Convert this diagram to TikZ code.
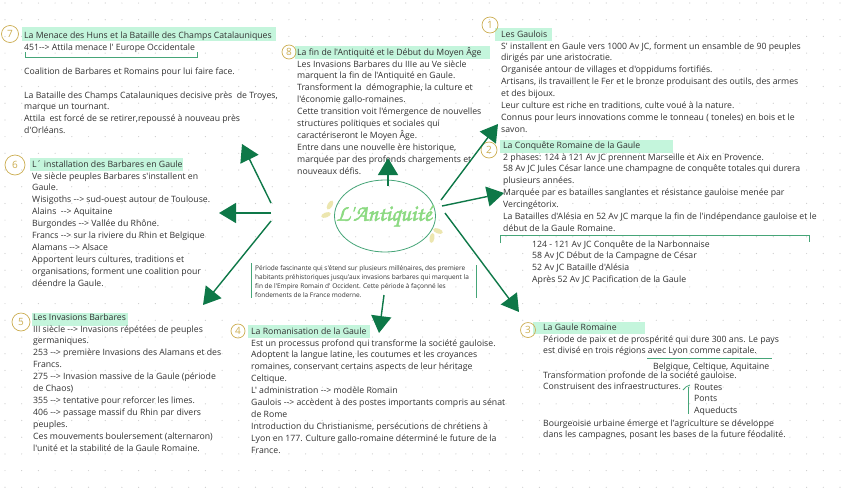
\documentclass[tikz,border=0pt]{standalone}
\usepackage{fontspec}
\usetikzlibrary{arrows.meta,shapes.geometric}
\newfontfamily\osans{Open Sans}
\newfontfamily\scriptf{texgyrechorus-mediumitalic.otf}[FakeBold=2.2]
\newcommand\bodyf{\osans\fontsize{8.7}{11.9}\selectfont}
\newcommand\descf{\osans\fontsize{6.5}{9}\selectfont}
\definecolor{textgray}{RGB}{50,50,50}
\definecolor{mint}{RGB}{196,245,220}
\definecolor{gold}{RGB}{204,174,82}
\definecolor{dkgreen}{RGB}{14,120,72}
\definecolor{lgreen}{RGB}{70,165,120}
\definecolor{scriptgreen}{RGB}{140,218,130}
\definecolor{leaf}{RGB}{236,230,175}
\definecolor{dotgray}{RGB}{205,205,205}
\tikzset{
  body/.style={font=\bodyf, text=textgray, align=left, anchor=base west, inner sep=0pt},
  desc/.style={font=\descf, text=textgray, align=left, anchor=base west, inner sep=0pt},
  hl/.style={fill=mint, draw=none},
  numc/.style={draw=gold, line width=0.7pt, circle, inner sep=0pt, text=gold, font=\osans\fontsize{10}{10}\selectfont},
  bigarrow/.style={draw=dkgreen, line width=1.4pt, -{Triangle[width=20pt,length=17pt]}},
  thin/.style={draw=lgreen, line width=0.8pt}
}
\begin{document}
\begin{tikzpicture}[x=1pt,y=-1pt]
\useasboundingbox (0,0) rectangle (848,488);
\fill[white] (0,0) rectangle (848,488);
% dot grid
\foreach \i in {0,...,50} {\foreach \j in {0,...,29} {\fill[dotgray] (5+\i*16.7,3+\j*16.7) circle (0.6);}}

% NOTE: multi-line nodes are anchored at the baseline of their LAST line

% ---------- Section 7 ----------
\fill[hl] (22,27) rectangle (276,41);
\node[numc, minimum size=17pt] (n7) at (10,34) {7};
\node[body] (t7) at (24,38) {La Menace des Huns et la Bataille des Champs Catalauniques};
\node[body] (b7a) at (24,50) {451--> Attila menace l' Europe Occidentale};
\draw[thin] (25,52) -- (25,57.5) -- (197,57.5) -- (197,52);
\node[body] (b7b) at (24,74) {Coalition de Barbares et Romains pour lui faire face.};
\node[body] (b7c) at (24,133.7) {La Bataille des Champs Catalauniques decisive près\ \ de Troyes,\\marque un tournant.\\Attila\ \ est forcé de se retirer,repoussé à nouveau près\\d'Orléans.};

% ---------- Section 8 ----------
\fill[hl] (295,46) rectangle (490,58.5);
\node[numc, minimum size=14pt] (n8) at (289,52) {8};
\node[body] (t8) at (297,55) {La fin de l'Antiquité et le Début du Moyen Âge};
\node[body] (b8) at (297,174.1) {Les Invasions Barbares du IIIe au Ve siècle\\marquent la fin de l'Antiquité en Gaule.\\Transforment la\ \ démographie, la culture et\\l'économie gallo-romaines.\\Cette transition voit l'émergence de nouvelles\\structures politiques et sociales qui\\caractériseront le Moyen Âge.\\Entre dans une nouvelle ère historique,\\marquée par des profonds chargements et\\nouveaux défis.};

% ---------- Section 1 ----------
\fill[hl] (495,28) rectangle (552,41);
\node[numc, minimum size=16pt] (n1) at (490,25) {1};
\node[body] (t1) at (501,37) {Les Gaulois};
\node[body] (b1) at (501,132.3) {S' installent en Gaule vers 1000 Av JC, forment un ensamble de 90 peuples\\dirigés par une aristocratie.\\Organisée antour de villages et d'oppidums fortifiés.\\Artisans, ils travaillent le Fer et le bronze produisant des outils, des armes\\et des bijoux.\\Leur culture est riche en traditions, culte voué à la nature.\\Connus pour leurs innovations comme le tonneau ( toneles) en bois et le\\savon.};

% ---------- Section 2 ----------
\fill[hl] (500,140) rectangle (673,153);
\node[numc, minimum size=16pt] (n2) at (489,150) {2};
\node[body] (t2) at (503,148) {La Conquête Romaine de la Gaule};
\node[body] (b2) at (503,231.4) {2 phases: 124 à 121 Av JC prennent Marseille et Aix en Provence.\\58 Av JC Jules César lance une champagne de conquête totales qui durera\\plusieurs années.\\Marquée par es batailles sanglantes et résistance gauloise menée par\\Vercingétorix.\\La Batailles d'Alésia en 52 Av JC marque la fin de l'indépendance gauloise et le\\début de la Gaule Romaine.};
\draw[thin] (500,243) -- (500,235) -- (809,235) -- (809,242);
\node[body] (s2) at (532,282.7) {124 - 121 Av JC Conquête de la Narbonnaise\\58 Av JC Début de la Campagne de César\\52 Av JC Bataille d'Alésia\\Après 52 Av JC Pacification de la Gaule};

% ---------- Section 6 ----------
\fill[hl] (30,158) rectangle (183,171);
\node[numc, minimum size=20pt] (n6) at (15,165) {6};
\node[body] (t6) at (32,167) {L´ installation des Barbares en Gaule};
\node[body] (b6) at (32,286.1) {Ve siècle peuples Barbares s'installent en\\Gaule.\\Wisigoths --> sud-ouest autour de Toulouse.\\Alains\ \ --> Aquitaine\\Burgondes --> Vallée du Rhône.\\Francs --> sur la riviere du Rhin et Belgique\\Alamans --> Alsace\\Apportent leurs cultures, traditions et\\organisations, forment une coalition pour\\déendre la Gaule.};

% ---------- Section 5 ----------
\fill[hl] (32,313) rectangle (128,326);
\node[numc, minimum size=18pt] (n5) at (21,322) {5};
\node[body] (t5) at (33,320) {Les Invasions Barbares};
\node[body] (b5) at (33,451) {III siècle --> Invasions répétées de peuples\\germaniques.\\253 --> première Invasions des Alamans et des\\Francs.\\275 --> Invasion massive de la Gaule (période\\de Chaos)\\355 --> tentative pour reforcer les limes.\\406 --> passage massif du Rhin par divers\\peuples.\\Ces mouvements boulersement (alternaron)\\l'unité et la stabilité de la Gaule Romaine.};

% ---------- Section 4 ----------
\fill[hl] (248,325) rectangle (370,338);
\node[numc, minimum size=14pt] (n4) at (238,331) {4};
\node[body] (t4) at (251,334) {La Romanisation de la Gaule};
\node[body] (b4) at (251,453.1) {Est un processus profond qui transforme la société gauloise.\\Adoptent la langue latine, les coutumes et les croyances\\romaines, conservant certains aspects de leur héritage\\Celtique.\\L' administration --> modèle Romain\\Gaulois --> accèdent à des postes importants compris au sénat\\de Rome\\Introduction du Christianisme, persécutions de chrétiens à\\Lyon en 177. Culture gallo-romaine déterminé le future de la\\France.};

% ---------- Section 3 ----------
\fill[hl] (533,322) rectangle (645,334);
\node[numc, minimum size=15pt] (n3) at (528,330) {3};
\node[body] (t3) at (543,330) {La Gaule Romaine};
\node[body] (b3) at (543,353.9) {Période de paix et de prospérité qui dure 300 ans. Le pays\\est divisé en trois régions avec Lyon comme capitale.};
\draw[thin] (647,358) -- (772,358);
\node[body] (b3r) at (653,369) {Belgique, Celtique, Aquitaine};
\node[body] (b3b) at (543,389.9) {Transformation profonde de la société gauloise.\\Construisent des infraestructures.};
\draw[thin] (683,390) .. controls (685,387) and (687,386) .. (690,385);
\draw[thin] (688,387) -- (688,414);
\node[body] (b3l) at (694,413.8) {Routes\\Ponts\\Aqueducts};
\node[body] (b3c) at (543,437.9) {Bourgeoisie urbaine émerge et l'agriculture se développe\\dans les campagnes, posant les bases de la future féodalité.};

% ---------- Center ----------
\foreach \x/\y/\a in {330/205/60, 326/215/20, 438/231/-20, 432/238/80}
  {\fill[leaf, rotate around={\a:(\x,\y)}] (\x,\y) ellipse (5 and 2.5);}
\node[draw=lgreen, line width=0.8pt, ellipse, minimum width=101pt, minimum height=72pt, inner sep=0pt] (c) at (385,216) {};
\node[text=scriptgreen, font=\scriptf\fontsize{23}{23}\selectfont, inner sep=0pt] (ctext) at (384,216) {L'Antiquité};

% description
\draw[thin] (251,263) -- (251,298);
\draw[thin] (476,265) -- (476,298);
\node[desc] (d) at (255,297) {Période fascinante qui s'étend sur plusieurs millénaires, des premiere\\habitants préhistoriques jusqu'aux invasions barbares qui marquent la\\fin de l'Empire Romain d' Occident. Cette période à façonné les\\fondements de la France moderne.};

% arrows
\coordinate (lstart1) at (271,203);
\coordinate (lstart2) at (271,213);
\coordinate (lstart3) at (271,221);
\coordinate (e8) at (242,144);
\coordinate (e6) at (219,213);
\coordinate (e5) at (203,305);
\coordinate (up0) at (388,186);
\coordinate (up1) at (388,158);
\coordinate (dn0) at (384,295);
\coordinate (dn1) at (379,333);
\coordinate (r0) at (441,200);
\coordinate (r1) at (498,124);
\coordinate (r2s) at (442,206);
\coordinate (r2) at (504,193);
\coordinate (r3s) at (445,213);
\coordinate (r3) at (519,312);
\draw[bigarrow] (lstart1) -- (e8);
\draw[bigarrow] (lstart2) -- (e6);
\draw[bigarrow] (lstart3) -- (e5);
\draw[bigarrow] (up0) -- (up1);
\draw[bigarrow] (dn0) -- (dn1);
\draw[bigarrow] (r0) -- (r1);
\draw[bigarrow] (r2s) -- (r2);
\draw[bigarrow] (r3s) -- (r3);
\end{tikzpicture}
\end{document}
